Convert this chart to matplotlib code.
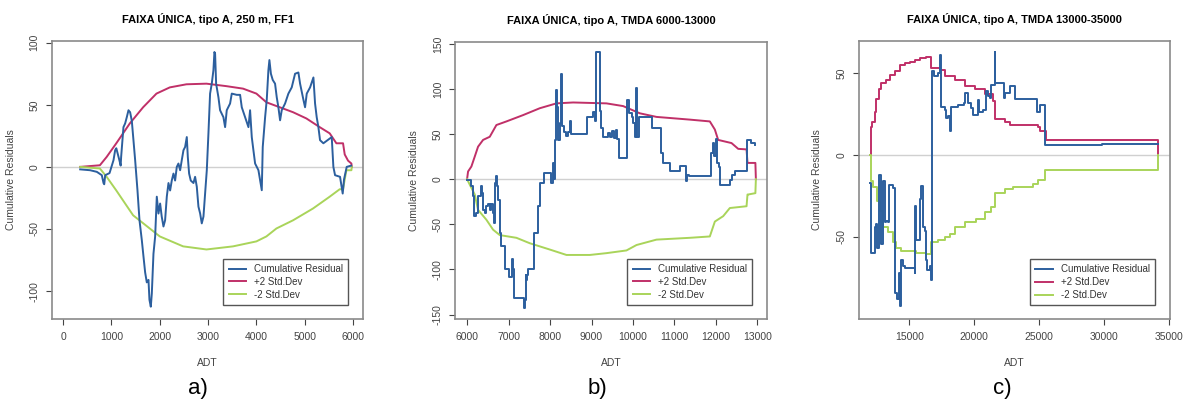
import matplotlib
matplotlib.use("Agg")
import matplotlib.pyplot as plt

plt.rcParams["font.family"] = ["Liberation Sans", "DejaVu Sans"]

BLUE = "#2c5f9e"
RED = "#c03068"
GREEN = "#a9d45a"
FRAME = "#8a8a8a"

TITLES = [
    "FAIXA ÚNICA, tipo A, 250 m, FF1",
    "FAIXA ÚNICA, tipo A, TMDA 6000-13000",
    "FAIXA ÚNICA, tipo A, TMDA 13000-35000",
]
PANEL_LABELS = ["a)", "b)", "c)"]
LEGEND_LABELS = ["Cumulative Residual", "+2 Std.Dev", "-2 Std.Dev"]

# ---- panel a ----
a_res_x = [352, 558, 697, 800, 835, 850, 870, 960, 1042, 1076, 1100, 1166, 1190, 1200,
           1248, 1283, 1317, 1352, 1386, 1421, 1455, 1490, 1538, 1580, 1628, 1662, 1697,
           1731, 1766, 1786, 1814, 1835, 1869, 1904, 1938, 1973, 2007, 2040, 2076, 2110,
           2145, 2180, 2214, 2248, 2283, 2317, 2352, 2386, 2421, 2455, 2490, 2524, 2559,
           2580, 2607, 2641, 2697, 2731, 2766, 2800, 2835, 2869, 2904, 2938, 2973, 3007,
           3041, 3076, 3110, 3131, 3145, 3166, 3214, 3248, 3317, 3352, 3386, 3455, 3490,
           3593, 3662, 3697, 3766, 3835, 3869, 3904, 3938, 3973, 4042, 4111, 4131, 4180,
           4214, 4248, 4269, 4300, 4338, 4386, 4421, 4455, 4490, 4524, 4593, 4662, 4731,
           4800, 4869, 4904, 4973, 5007, 5042, 5111, 5180, 5214, 5248, 5283, 5317, 5386,
           5490, 5559, 5593, 5628, 5731, 5786, 5814, 5869, 5960]
a_res_y = [-2, -2.7, -4, -6.7, -13, -14, -6.7, -5, 5.4, 13.4, 15, 5, 1, 8,
           32, 35, 40, 45.6, 44, 37, 21.5, 5.4, -18.8, -43, -59, -72, -85,
           -93, -91, -107, -112.6, -102, -70, -56, -24, -37.6, -29.5, -40, -48, -43,
           -24, -13, -19, -11, -5.4, -11, 0, 2.7, -2.7, 5.4, 13.4, 16, 24,
           8, -5.4, -11, -13, -8, -16, -32, -37.5, -45.5, -40, -21.5, -2.7, 27,
           59, 67, 77.8, 92.5, 91, 67, 56, 45.6, 40, 32, 45.6, 51, 59,
           58, 58, 48, 40, 32, 45.6, 24, 13.4, 2.7, -2.7, -18.8, 16, 40,
           54, 77.8, 86, 75, 70, 67, 56, 48, 37.5, 45.6, 51, 59, 64,
           75, 76, 67, 54, 48, 59, 64, 72, 51, 40, 32, 21.5, 19,
           22, 24, 0, -6.7, -8, -21.5, -10, 0, 1]
a_up_x = [352, 760, 900, 1100, 1380, 1655, 1931, 2207, 2552, 2966, 3379, 3724, 4000,
          4207, 4483, 4759, 5034, 5310, 5517, 5655, 5793, 5828, 5897, 5966, 5975]
a_up_y = [0, 1.3, 8, 19, 35, 48, 59, 64, 66.5, 67, 65, 63, 59,
          52, 48, 44, 39, 32, 27, 19, 19, 10, 5, 2.7, 0]
a_lo_x = [352, 760, 900, 1100, 1448, 2000, 2483, 2966, 3517, 4000, 4207, 4414, 4759,
          5172, 5517, 5724, 5793, 5862, 5966, 5975]
a_lo_y = [0, -1.3, -8, -19, -39, -56, -64, -66.5, -64, -60, -56, -49.6, -43,
          -33.5, -24, -18, -18, -2.7, -2.7, 0]

# ---- panel b ----
b_res_x = [5990, 6088, 6104, 6145, 6169, 6225, 6265, 6305, 6346, 6370, 6386, 6426, 6466,
           6506, 6547, 6587, 6627, 6651, 6667, 6707, 6731, 6747, 6788, 6828, 6892, 6908,
           6988, 7013, 7068, 7085, 7109, 7133, 7350, 7366, 7390, 7414, 7430, 7446, 7470,
           7591, 7616, 7672, 7712, 7752, 7833, 7857, 7994, 8034, 8074, 8098, 8114, 8138,
           8179, 8195, 8235, 8275, 8291, 8340, 8380, 8436, 8476, 8500, 8878, 8902, 8999,
           9039, 9079, 9103, 9175, 9200, 9240, 9280, 9320, 9400, 9440, 9505, 9537, 9585,
           9617, 9666, 9843, 9867, 9907, 9964, 10004, 10044, 10068, 10108, 10149, 10406,
           10446, 10647, 10671, 10727, 10848, 10888, 11113, 11129, 11250, 11274, 11290,
           11354, 11853, 11876, 11917, 11949, 11997, 12029, 12069, 12109, 12294, 12334,
           12375, 12455, 12736, 12760, 12833, 12937]
b_res_y = [-0.7, -2, -8, -19, -41, -38, -19, -19, -8, -15.5, -34, -38, -30,
           -27, -34, -27, -38, -49, -4, 3, -8, -23, -60, -74.5, -74.5, -100,
           -100, -108, -108, -89, -100, -132, -132, -143, -134, -106, -111.6, -106, -100,
           -100, -60, -60, -30, -4.4, -4.4, 6.6, 6.6, -4.4, 18, 0, 43.5, 99,
           80, 43.5, 62, 117, 59, 52, 48, 52, 64, 50, 50, 69, 69,
           74.5, 65, 141, 141, 76, 57, 47, 47, 51, 47, 53, 45.6, 55,
           44, 23, 23, 88, 73, 69, 62, 47, 101, 47, 69, 69,
           56.5, 56.5, 29, 18, 18, 8.5, 8.5, 15, 15, -2, 5,
           3, 3, 29, 40, 25.5, 44, 18, 14, -6, -6, -0.7,
           5, 8.5, 14, 43.5, 40, 38]
b_up_x = [6000, 6024, 6104, 6185, 6265, 6386, 6547, 6707, 6949, 7350, 7752, 8154, 8556,
          9360, 9762, 10164, 10566, 11370, 11852, 11973, 12053, 12375, 12536, 12737,
          12760, 12777, 12950, 12962]
b_up_y = [0, 8.5, 14, 25, 36, 43.5, 47, 60, 64, 71, 78.6, 84, 85,
          84, 81, 73, 69, 66, 64, 55, 43.5, 40, 33.6, 33,
          18, 18, 18, 0]
b_lo_x = [6000, 6064, 6185, 6265, 6466, 6627, 6788, 7190, 7511, 7994, 8396, 8958, 9360,
          9842, 10084, 10566, 11370, 11852, 11973, 12174, 12334, 12737, 12760, 12777,
          12950, 12962]
b_lo_y = [0, -6, -17, -34, -45, -56, -62, -65, -71, -78, -84, -84, -82,
          -79, -73, -67, -65, -63.5, -47, -41, -32, -30, -17, -17,
          -15.5, 0]

# ---- panel c ----
c_res_x = [12000, 12026, 12077, 12282, 12333, 12462, 12538, 12641, 12692, 12795, 12846,
           12974, 13000, 13103, 13231, 13359, 13410, 13744, 13872, 13923, 14077, 14179,
           14256, 14333, 14513, 14641, 15359, 15410, 15462, 15538, 15795, 15923, 16051,
           16180, 16256, 16385, 16564, 16692, 16744, 16897, 17205, 17333, 17410, 17718,
           17846, 17974, 18100, 18180, 18744, 19205, 19308, 19513, 19769, 19897, 20282,
           20333, 20667, 20923, 21051, 21180, 21308, 21564, 21615, 22205, 22256, 22333,
           22744, 23128, 24410, 24795, 24846, 25051, 25436, 29667, 29795, 34154]
c_res_y = [-17, -35, -59.5, -60, -44, -42, -56.5, -50, -12, -16, -54.5,
           -53.5, -16, -41, -40, -41, -18, -20, -56.5, -84, -88, -72,
           -92, -64, -68, -69, -69, -72, -31, -52, -27, -19, -44,
           -46.5, -64, -70, -68, -76, 51, 48, 50, 61, 29.5, 27.5,
           22.5, 23.5, 14.6, 29.5, 30.5, 31.7, 37.8, 31.7, 28.5, 24.4, 33.5,
           26.4, 27.5, 38.8, 35.8, 34.8, 42.9, 63, 43.9, 43.9, 34.8, 37.8,
           42, 34, 34, 33, 26, 30.5, 6, 6, 7, 7]
c_up_x = [11949, 12026, 12128, 12333, 12462, 12641, 12846, 13231, 13487, 13872, 14256,
          14641, 15026, 15410, 15795, 16308, 16692, 17333, 17718, 18487, 19256, 20026,
          20795, 21436, 21564, 22333, 22744, 24923, 25051, 25487, 34154]
c_up_y = [0, 17, 20, 26, 34, 40, 44, 46, 49, 51, 55,
          56, 57, 58, 59, 59.5, 53, 52, 48, 46, 42, 40,
          37, 33, 22, 20, 18.3, 17, 14.6, 9, 0]
c_lo_x = [11949, 12026, 12205, 12538, 12718, 12974, 13359, 13744, 14000, 14385, 15538,
          16308, 16692, 17205, 17718, 18100, 18487, 19256, 20154, 20795, 21308, 21564,
          22333, 22974, 24538, 24923, 25436, 34154]
c_lo_y = [0, -16, -19.5, -28, -34, -44, -47, -53, -56.5, -58.5, -59.5,
          -60.6, -53, -52, -50, -48, -44, -41, -39, -34.5, -31.5, -23,
          -21, -19.5, -17.5, -15.5, -9, 0]

panels = [
    (a_res_x, a_res_y, a_up_x, a_up_y, a_lo_x, a_lo_y),
    (b_res_x, b_res_y, b_up_x, b_up_y, b_lo_x, b_lo_y),
    (c_res_x, c_res_y, c_up_x, c_up_y, c_lo_x, c_lo_y),
]
# line drawing per panel: (residual, bounds)
STYLES = [("default", "default"), ("steps-post", "default"), ("steps-post", "steps-post")]
XLIMS = [(-230, 6210), (5720, 13240), (11130, 35050)]
YLIMS = [(-122.5, 101.4), (-155, 152.3), (-100.2, 69.7)]
XTICKS = [range(0, 6001, 1000), range(6000, 13001, 1000), range(15000, 35001, 5000)]
YTICKS = [[-100, -50, 0, 50, 100], [-150, -100, -50, 0, 50, 100, 150], [-50, 0, 50]]
AX_POS = [[0.044, 0.2084, 0.263, 0.690],
          [0.385, 0.2084, 0.2637, 0.688],
          [0.726, 0.2077, 0.263, 0.6913]]
LABEL_X = [0.167, 0.505, 0.847]

fig = plt.figure(figsize=(11.83, 4.03), dpi=100)

for i, (rx, ry, ux, uy, lx, ly) in enumerate(panels):
    ax = fig.add_axes(AX_POS[i])
    rs, bs = STYLES[i]
    ax.axhline(0, color="#d0d0d0", lw=1.0, zorder=1)
    ax.plot(rx, ry, color=BLUE, lw=1.4, drawstyle=rs, label=LEGEND_LABELS[0], zorder=3)
    ax.plot(ux, uy, color=RED, lw=1.4, drawstyle=bs, label=LEGEND_LABELS[1], zorder=2)
    ax.plot(lx, ly, color=GREEN, lw=1.4, drawstyle=bs, label=LEGEND_LABELS[2], zorder=2)
    ax.set_xlim(*XLIMS[i])
    ax.set_ylim(*YLIMS[i])
    ax.set_xticks(list(XTICKS[i]))
    ax.set_yticks(YTICKS[i])
    ax.set_yticklabels([str(v) for v in YTICKS[i]], rotation=90, va="center")
    ax.tick_params(labelsize=7.5, colors="#444444", length=4, width=0.8, pad=5)
    for s in ax.spines.values():
        s.set_color(FRAME)
        s.set_linewidth(1.2)
    ax.set_title(TITLES[i], fontsize=8, fontweight="bold", pad=13)
    ax.set_xlabel("ADT", fontsize=7.5, color="#444444", labelpad=12)
    ax.set_ylabel("Cumulative Residuals", fontsize=7.5, color="#444444", labelpad=10)
    leg = ax.legend(loc="lower right", bbox_to_anchor=(0.952, 0.05), fontsize=7,
                    fancybox=False, framealpha=1, edgecolor="#555555",
                    handlelength=1.8, borderpad=0.55, labelspacing=0.3, borderaxespad=0)
    leg.get_frame().set_linewidth(1.0)
    for t in leg.get_texts():
        t.set_color("#333333")
    fig.text(LABEL_X[i], 0.035, PANEL_LABELS[i], fontsize=16, ha="center", va="center")

fig.savefig("out.png", dpi=100)
